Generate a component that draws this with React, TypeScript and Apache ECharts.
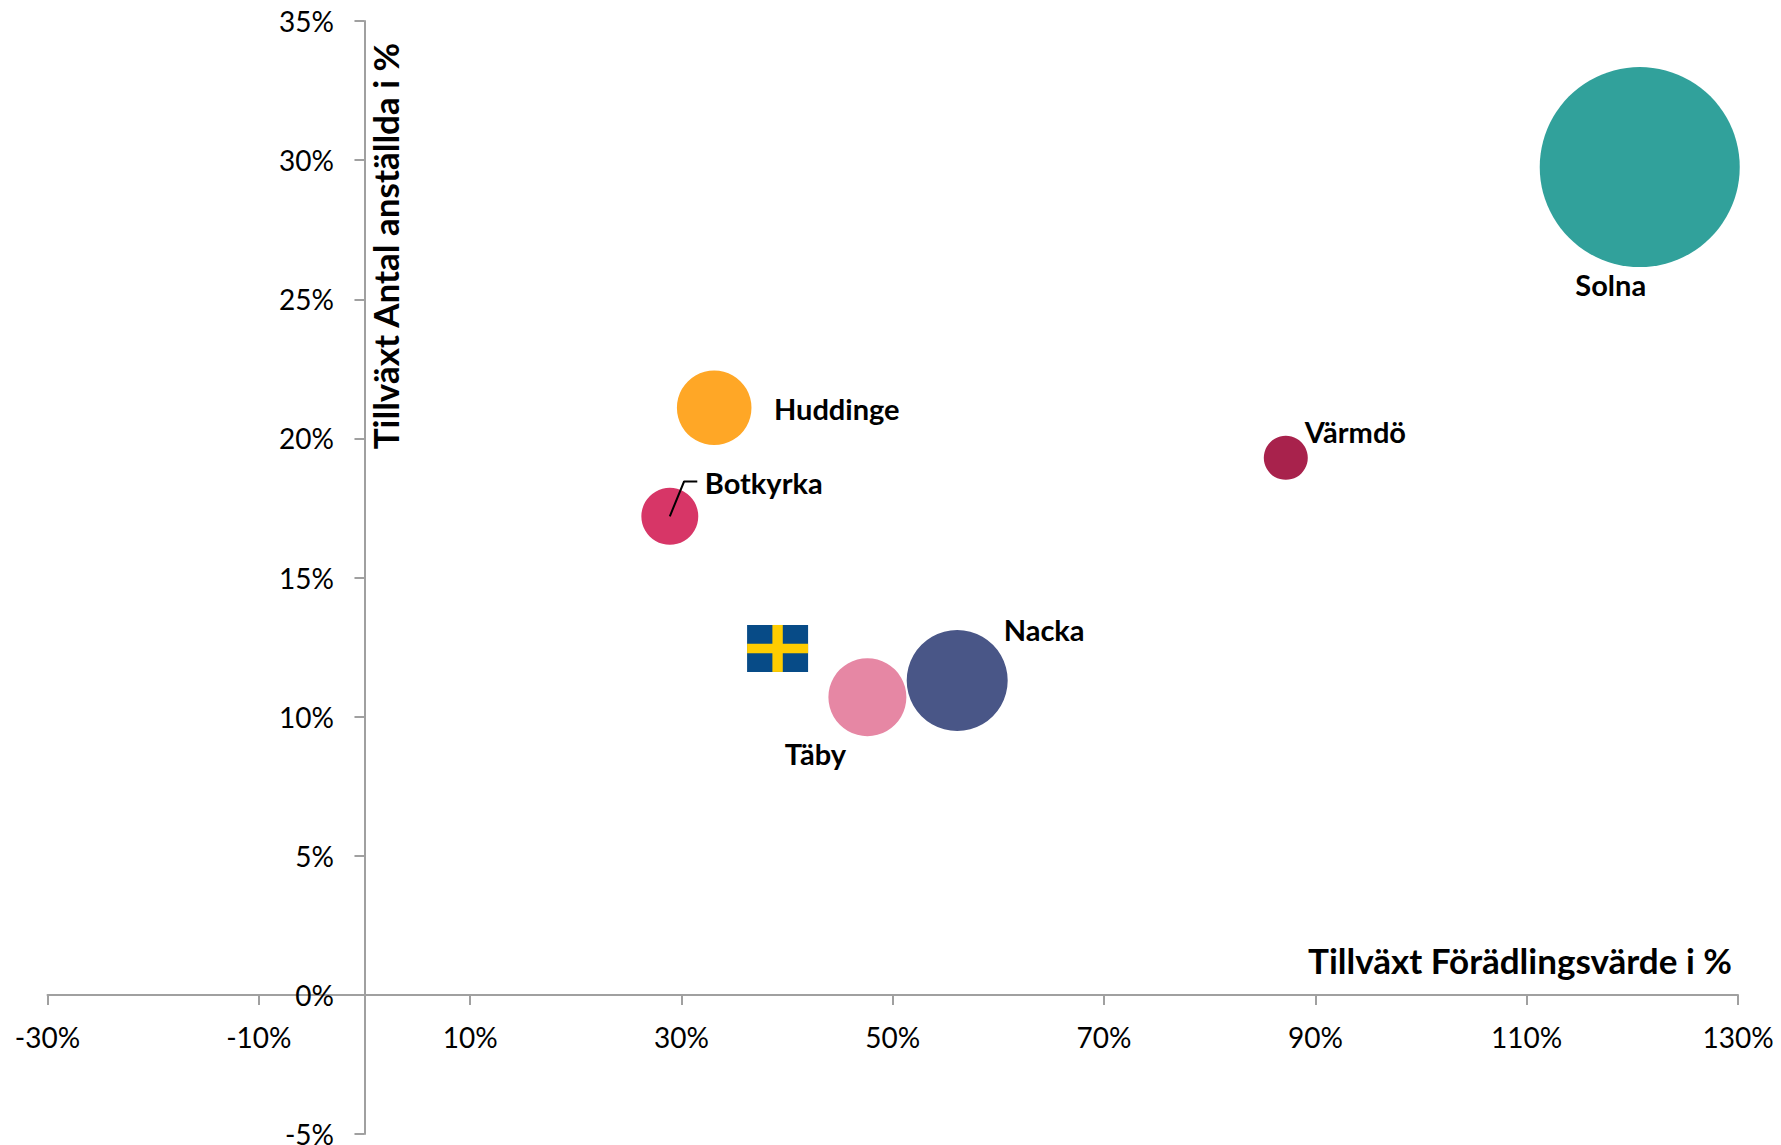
import React, { useEffect, useRef } from "react";
import * as echarts from "echarts";

const municipalities = ["Solna", "Värmdö", "Huddinge", "Botkyrka", "Nacka", "Täby"];
const valueGrowth = [120.7, 87.2, 33.1, 28.9, 56.1, 47.6];
const staffGrowth = [29.75, 19.3, 21.1, 17.2, 11.3, 10.7];
const bubbleSizes = [100, 4.84, 13.9, 8.1, 25.5, 15.2];
const colors = ["#31a19b", "#a8224c", "#ffa726", "#d73667", "#495687", "#e687a4"];
const labelPlacement = [
  { position: "bottom", distance: 3, offset: [-29, 0] },
  { position: "right", distance: 0, offset: [-3, -26] },
  { position: "right", distance: 22.5, offset: [0, 1] },
  { position: "right", distance: 6.5, offset: [0, -34] },
  { position: "right", distance: 0, offset: [-4, -50.5] },
  { position: "bottom", distance: 2.5, offset: [-52, 0] },
];
const xTicks = [-30, -10, 10, 30, 50, 70, 90, 110, 130];
const swedenPoint = [39.1, 12.45];
const leaderLine = [[28.9, 17.2], [30.25, 18.45], [31.5, 18.45]];

const FONT = "Lato, Carlito, sans-serif";
const AXIS = "#a0a0a0";

export default function App() {
  const ref = useRef<HTMLDivElement>(null);
  useEffect(() => {
    const chart = echarts.init(ref.current!, undefined, { renderer: "svg" });
    chart.setOption({
      animation: false,
      backgroundColor: "#ffffff",
      textStyle: { fontFamily: FONT },
      grid: { left: 47.5, right: 43, top: 21, bottom: 11, outerBoundsMode: "none" },
      xAxis: {
        type: "value",
        min: -30,
        max: 130,
        splitLine: { show: false },
        axisLine: { onZero: true, lineStyle: { color: AXIS, width: 2 } },
        axisTick: { show: true, length: 10, customValues: xTicks, lineStyle: { color: AXIS, width: 2 } },
        axisLabel: { customValues: xTicks, margin: -111, fontSize: 28, color: "#000", fontFamily: FONT, formatter: "{value}%", showMinLabel: true, showMaxLabel: true, hideOverlap: false },
      },
      yAxis: {
        type: "value",
        min: -5,
        max: 35,
        interval: 5,
        splitLine: { show: false },
        axisLine: { onZero: true, lineStyle: { color: AXIS, width: 2 } },
        axisTick: { show: true, length: 10, lineStyle: { color: AXIS, width: 2 } },
        axisLabel: { margin: -286.5, fontSize: 28, color: "#000", fontFamily: FONT, formatter: "{value}%", padding: [0, 0, 3, 0] },
      },
      graphic: [
        { type: "text", x: 1732, y: 959.5, style: { text: "Tillväxt Förädlingsvärde i %", font: `bold 35px ${FONT}`, fill: "#000", align: "right", verticalAlign: "middle" } },
        { type: "text", x: 384.5, y: 246, rotation: Math.PI / 2, style: { text: "Tillväxt Antal anställda i %", font: `bold 35px ${FONT}`, fill: "#000", align: "center", verticalAlign: "middle" } },
      ],
      series: [
        {
          type: "scatter",
          symbolSize: (v: number[]) => 20 * Math.sqrt(v[2]),
          data: municipalities.map((name, i) => ({
            name,
            value: [valueGrowth[i], staffGrowth[i], bubbleSizes[i]],
            itemStyle: { color: colors[i], opacity: 1 },
            label: {
              show: true,
              formatter: name,
              fontFamily: FONT,
              fontWeight: "bold",
              fontSize: 29,
              color: "#000",
              ...labelPlacement[i],
            },
          })),
        },
        {
          type: "line",
          data: leaderLine,
          symbol: "none",
          silent: true,
          z: 3,
          lineStyle: { color: "#000", width: 2 },
        },
        {
          type: "custom",
          data: [swedenPoint],
          z: 3,
          renderItem: (_: unknown, api: any) => {
            const [cx, cy] = api.coord([api.value(0), api.value(1)]);
            return {
              type: "group",
              children: [
                { type: "rect", shape: { x: cx - 30.5, y: cy - 23.5, width: 61, height: 47 }, style: { fill: "#074b87" } },
                { type: "rect", shape: { x: cx - 5.2, y: cy - 23.5, width: 10.4, height: 47 }, style: { fill: "#ffcd00" } },
                { type: "rect", shape: { x: cx - 30.5, y: cy - 4.7, width: 61, height: 9.4 }, style: { fill: "#ffcd00" } },
              ],
            };
          },
        },
      ],
    });
    return () => chart.dispose();
  }, []);
  return <div ref={ref} style={{ position: "fixed", left: 0, top: 0, width: 1781, height: 1145 }} />;
}
